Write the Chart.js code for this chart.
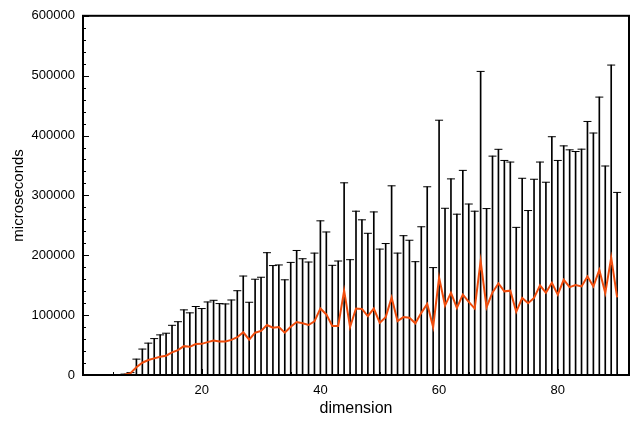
<!DOCTYPE html>
<html>
<head>
<meta charset="utf-8">
<script src="https://cdn.jsdelivr.net/npm/chart.js@4/dist/chart.umd.min.js"></script>
<style>
  html, body { margin: 0; padding: 0; background: #fff; }
</style>
</head>
<body>
<canvas id="timing" width="640" height="424"></canvas>
<script>
// matrix dimension for each run
const dims = [
   3,  4,  5,  6,  7,  8,  9, 10, 11, 12, 13, 14, 15, 16, 17, 18, 19, 20, 21, 22,
  23, 24, 25, 26, 27, 28, 29, 30, 31, 32, 33, 34, 35, 36, 37, 38, 39, 40, 41, 42,
  43, 44, 45, 46, 47, 48, 49, 50, 51, 52, 53, 54, 55, 56, 57, 58, 59, 60, 61, 62,
  63, 64, 65, 66, 67, 68, 69, 70, 71, 72, 73, 74, 75, 76, 77, 78, 79, 80, 81, 82,
  83, 84, 85, 86, 87, 88, 89, 90
];

// mean time per dimension (microseconds)
const meanTimes = [
       0,      0,      0,      0,    500,   3000,  13000,  20500,  25000,  27800,
   30600,  32200,  37700,  41600,  48200,  47100,  51600,  52000,  54900,  57500,
   55900,  55900,  58700,  63100,  71400,  59000,  70700,  73600,  83500,  79000,
   80200,  70700,  80700,  88400,  86300,  83500,  89600, 111000, 101200,  81800,
   81800, 140800,  80200, 111000, 110400,  98400, 111000,  87300,  96700, 129300,
   90100,  96700,  95500,  86300, 103800, 118700,  80200, 162800, 116000, 137500,
  112100, 134200, 122000, 111000, 190400, 113200, 138000, 153000, 139700, 140800,
  105500, 128600, 119800, 128600, 149600, 137500, 154100, 134200, 159000, 146800,
  150100, 147900, 164500, 147900, 175500, 136900, 195900, 129800
];

// top of the error bar (mean + deviation), microseconds
const upperTimes = [
    null,   null,   null,   null,   1500,   4000,  26500,  43300,  53200,  60800,
   67000,  69800,  83000,  89000, 108800, 103800, 114400, 111000, 122000, 124800,
  119300, 118700, 125300, 140800, 165300, 121500, 160000, 163300, 204300, 182800,
  183800, 159000, 188100, 208000, 194200, 188700, 203600, 257500, 238900, 183200,
  190400, 321000, 192600, 273600, 259200, 236700, 272400, 210300, 219600, 316000,
  203600, 232700, 225100, 189300, 247600, 314400, 179400, 425600, 278500, 327600,
  268600, 341800, 285600, 273600, 507100, 278000, 365600, 377000, 358400, 355700,
  246600, 328600, 274700, 327000, 355700, 322000, 398000, 358400, 382700, 376100,
  373300, 377200, 423500, 404200, 464200, 349100, 517700, 305000
];

const xTicks = [20, 40, 60, 80];

const meanPts = dims.map((d, i) => ({ x: d, y: meanTimes[i] }));
const upperPts = dims.map((d, i) => ({ x: d, y: upperTimes[i] }));

Chart.defaults.font.family = '"Liberation Sans", Arial, Helvetica, sans-serif';
Chart.defaults.color = '#000';

// closed box round the plot with short ticks pointing inwards
const boxTicks = {
  id: 'boxTicks',
  afterDatasetsDraw(chart) {
    const { ctx, chartArea: a, scales: { x, y } } = chart;
    ctx.save();
    ctx.strokeStyle = '#000';
    ctx.lineWidth = 1;
    for (let v = 0; v <= y.max; v += 20000) {
      const py = Math.round(y.getPixelForValue(v)) + 0.5;
      const len = v % 100000 === 0 ? 6 : 3;
      ctx.beginPath();
      ctx.moveTo(a.left, py);
      ctx.lineTo(a.left + len, py);
      ctx.stroke();
    }
    for (let v = 5; v < x.max; v += 5) {
      const px = Math.round(x.getPixelForValue(v)) + 0.5;
      const len = v % 20 === 0 ? 6 : 3;
      ctx.beginPath();
      ctx.moveTo(px, a.bottom);
      ctx.lineTo(px, a.bottom - len);
      ctx.stroke();
    }
    ctx.lineWidth = 2;
    ctx.strokeRect(a.left, a.top, a.right - a.left, a.bottom - a.top);
    ctx.restore();
  }
};

new Chart(document.getElementById('timing'), {
  type: 'bar',
  data: {
    datasets: [
      {
        type: 'line',
        data: meanPts,
        borderColor: '#f04c0c',
        borderWidth: 2,
        pointRadius: 0,
        tension: 0,
        order: 0
      },
      {
        type: 'scatter',
        data: upperPts,
        pointStyle: 'line',
        pointRadius: 4,
        borderColor: '#000',
        borderWidth: 1,
        order: 1
      },
      {
        type: 'bar',
        data: upperPts,
        backgroundColor: '#000',
        barThickness: 1,
        order: 2
      }
    ]
  },
  options: {
    responsive: false,
    animation: false,
    layout: { padding: { top: 13, right: 11, left: 0, bottom: 0 } },
    plugins: { legend: { display: false }, tooltip: { enabled: false } },
    scales: {
      x: {
        type: 'linear',
        min: 0,
        max: 92,
        offset: false,
        grid: { display: false, drawTicks: false },
        border: { display: false },
        afterBuildTicks: (s) => { s.ticks = xTicks.map(v => ({ value: v })); },
        afterFit: (s) => { s.height = 49; },
        ticks: { padding: 8, font: { size: 13 }, maxRotation: 0 },
        title: { display: true, text: 'dimension', font: { size: 16 }, padding: { top: 0, bottom: 6 } }
      },
      y: {
        min: 0,
        max: 600000,
        grid: { display: false, drawTicks: false },
        border: { display: false },
        afterFit: (s) => { s.width = 83; },
        ticks: { stepSize: 100000, padding: 8, font: { size: 13 }, callback: v => String(v) },
        title: { display: true, text: 'microseconds', font: { size: 15 }, padding: { top: 10, bottom: 0 } }
      }
    }
  },
  plugins: [boxTicks]
});
</script>
</body>
</html>
